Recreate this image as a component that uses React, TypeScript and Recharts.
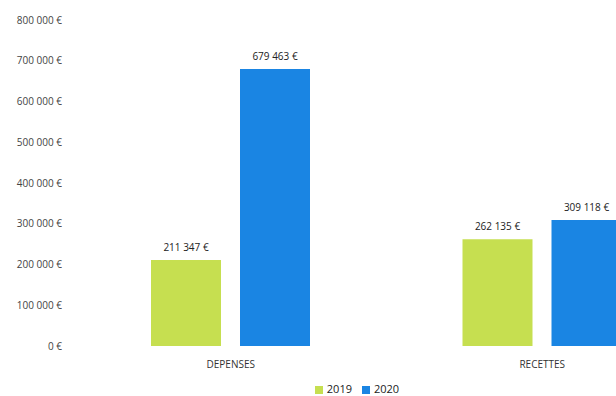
import React from 'react';
import { BarChart, Bar, XAxis, YAxis, Legend, LabelList } from 'recharts';

const categories = ['DEPENSES', 'RECETTES'];
const values2019 = [211347, 262135];
const values2020 = [679463, 309118];
const yTicks = [0, 100000, 200000, 300000, 400000, 500000, 600000, 700000, 800000];

const data = categories.map((c, i) => ({ name: c, y2019: values2019[i], y2020: values2020[i] }));

const fmt = (v: number) => String(v).replace(/\B(?=(\d{3})+(?!\d))/g, ' ') + ' €';

const FONT = '"Open Sans", sans-serif';

const renderValue = (props: any) => {
  const { x, y, width, value } = props;
  return (
    <text
      x={Number(x) + Number(width) / 2}
      y={Number(y) - 9}
      textAnchor="middle"
      fill="#222"
      fontSize={10}
      fontFamily={FONT}
    >
      {fmt(Number(value))}
    </text>
  );
};

export default function App() {
  return (
    <div style={{ position: 'absolute', left: 0, top: 0, width: 616, height: 396, overflow: 'hidden', background: '#fff' }}>
      <BarChart
        width={724}
        height={396}
        data={data}
        margin={{ top: 20, right: 26, bottom: 0, left: 0 }}
        barGap={19}
        barCategoryGap={76}
      >
        <XAxis
          dataKey="name"
          axisLine={false}
          tickLine={false}
          tickSize={0}
          tickMargin={15}
          height={30}
          tick={{ fill: '#333', fontSize: 10, fontFamily: FONT }}
        />
        <YAxis
          width={75}
          domain={[0, 800000]}
          ticks={yTicks}
          tickFormatter={fmt}
          axisLine={false}
          tickLine={false}
          tickSize={0}
          tickMargin={13}
          interval={0}
          tick={{ fill: '#444', fontSize: 10, fontFamily: FONT }}
        />
        <Legend
          verticalAlign="bottom"
          iconType="square"
          iconSize={8}
          height={20}
          formatter={(value: any) => <span style={{ color: '#222' }}>{value}</span>}
          wrapperStyle={{ fontFamily: FONT, fontSize: 11, left: 0, width: 724, bottom: -5 }}
        />
        <Bar dataKey="y2019" name="2019" fill="#C6DF50" barSize={70} isAnimationActive={false}>
          <LabelList dataKey="y2019" content={renderValue} />
        </Bar>
        <Bar dataKey="y2020" name="2020" fill="#1A85E3" barSize={70} isAnimationActive={false}>
          <LabelList dataKey="y2020" content={renderValue} />
        </Bar>
      </BarChart>
    </div>
  );
}
